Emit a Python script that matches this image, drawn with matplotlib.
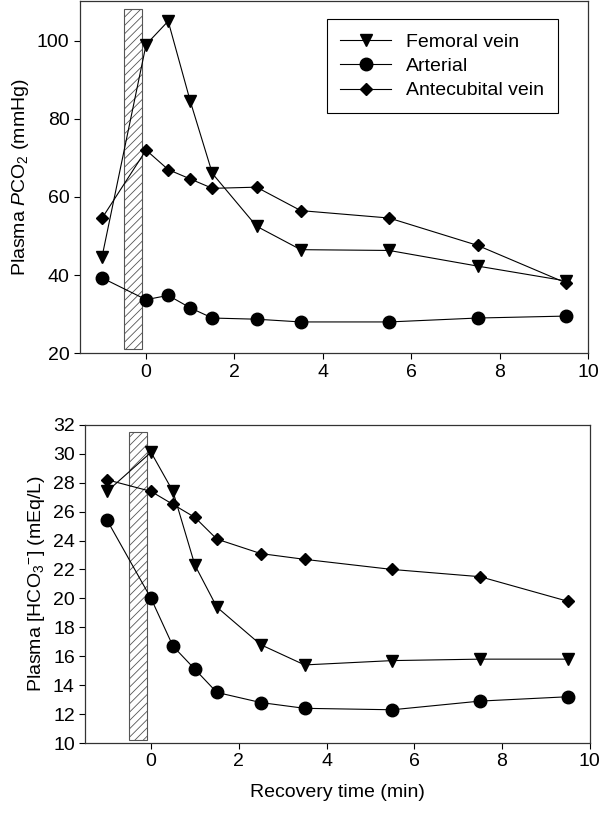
import matplotlib
matplotlib.use('Agg')
import matplotlib.pyplot as plt
from matplotlib.patches import Rectangle

plt.rcParams['font.family'] = ['Liberation Sans', 'DejaVu Sans']
plt.rcParams['mathtext.fontset'] = 'custom'
plt.rcParams['mathtext.rm'] = 'Liberation Sans'
plt.rcParams['mathtext.it'] = 'Liberation Sans:italic'
plt.rcParams['hatch.linewidth'] = 0.6

t = [-1, 0, 0.5, 1, 1.5, 2.5, 3.5, 5.5, 7.5, 9.5]

# Plasma PCO2 (mmHg)
pco2_femoral = [44.5, 99, 105, 84.5, 66, 52.5, 46.5, 46.3, 42.3, 38.5]
pco2_arterial = [39.3, 33.7, 34.8, 31.6, 29, 28.7, 28, 28, 29, 29.5]
pco2_antecubital = [54.5, 72, 67, 64.6, 62.2, 62.5, 56.5, 54.6, 47.6, 38]

# Plasma HCO3- (mEq/L)
hco3_femoral = [27.4, 30.1, 27.4, 22.3, 19.4, 16.8, 15.4, 15.7, 15.8, 15.8]
hco3_arterial = [25.4, 20, 16.7, 15.1, 13.5, 12.8, 12.4, 12.3, 12.9, 13.2]
hco3_antecubital = [28.2, 27.4, 26.5, 25.6, 24.1, 23.1, 22.7, 22, 21.5, 19.8]

fs = 14

fig = plt.figure(figsize=(6, 8.33), dpi=100)
ax1 = fig.add_axes([0.133, 0.576, 0.847, 0.423])
ax2 = fig.add_axes([0.142, 0.108, 0.841, 0.382])

def draw(ax, fem, art, ant):
    ax.plot(t, fem, color='black', lw=0.8, marker='v', ms=9, label='Femoral vein')
    ax.plot(t, art, color='black', lw=0.8, marker='o', ms=9, label='Arterial')
    ax.plot(t, ant, color='black', lw=0.8, marker='D', ms=6, label='Antecubital vein')
    for s in ax.spines.values():
        s.set_color('#333333')
        s.set_linewidth(0.9)
    ax.set_xlim(-1.5, 10)
    ax.set_xticks([0, 2, 4, 6, 8, 10])
    ax.tick_params(labelsize=fs, direction='out', length=4, width=0.8)

draw(ax1, pco2_femoral, pco2_arterial, pco2_antecubital)
ax1.add_patch(Rectangle((-0.5, 21), 0.4, 87, facecolor='white', edgecolor='#555555',
                        hatch='////', lw=0.8, zorder=1.5))
ax1.set_ylim(20, 110.2)
ax1.set_yticks([20, 40, 60, 80, 100])
ax1.set_ylabel('Plasma $\\mathit{P}$CO$_2$ (mmHg)', fontsize=fs)
leg = ax1.legend(loc='upper right', bbox_to_anchor=(0.96, 0.975), fontsize=fs,
                 fancybox=False, framealpha=1, edgecolor='black', handlelength=2.6,
                 borderpad=0.7, labelspacing=0.35, handletextpad=0.8)
leg.get_frame().set_linewidth(0.8)

draw(ax2, hco3_femoral, hco3_arterial, hco3_antecubital)
ax2.add_patch(Rectangle((-0.5, 10.2), 0.4, 21.3, facecolor='white', edgecolor='#555555',
                        hatch='////', lw=0.8, zorder=1.5))
ax2.set_ylim(10, 32)
ax2.set_yticks(range(10, 33, 2))
ax2.set_ylabel('Plasma [HCO$_3$$^{\\mathrm{-}}$] (mEq/L)', fontsize=fs)
ax2.set_xlabel('Recovery time (min)', fontsize=fs, labelpad=10)

fig.savefig('out.png', dpi=100)
